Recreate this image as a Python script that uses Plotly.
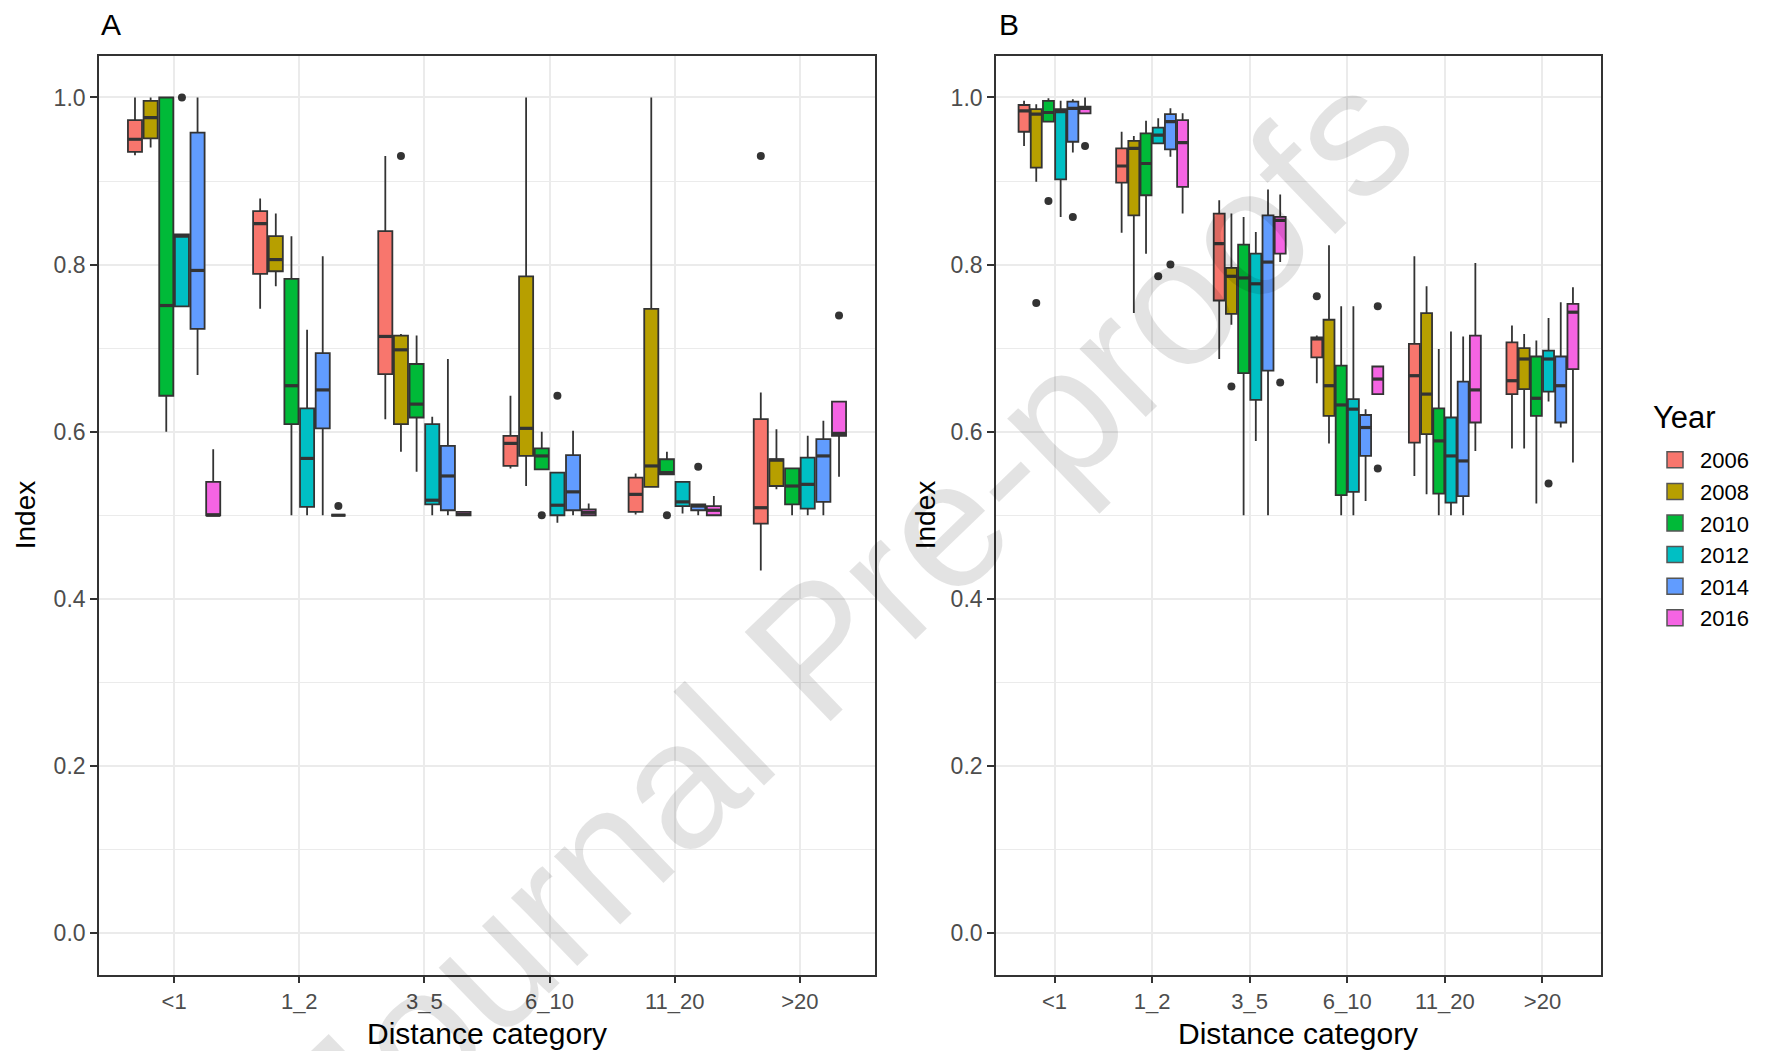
import plotly.graph_objects as go

# ---------------- data ----------------
categories = ["<1", "1_2", "3_5", "6_10", "11_20", ">20"]
years = ["2006", "2008", "2010", "2012", "2014", "2016"]
colors = ["#F8766D", "#B79F00", "#00BA38", "#00BFC4", "#619CFF", "#F564E3"]

# Panel A  (rows = years 2006..2016, columns = distance categories)
A_lower = [
    [0.931, 0.747, 0.615, 0.556, 0.501, 0.434],
    [0.940, 0.774, 0.576, 0.535, 0.534, 0.531],
    [0.600, 0.500, 0.552, 0.555, 0.549, 0.500],
    [0.750, 0.500, 0.500, 0.491, 0.502, 0.500],
    [0.668, 0.500, 0.500, 0.500, 0.500, 0.500],
    [0.500, 0.500, 0.500, 0.500, 0.500, 0.546],
]
A_q1 = [
    [0.935, 0.789, 0.669, 0.559, 0.504, 0.490],
    [0.951, 0.792, 0.609, 0.571, 0.534, 0.535],
    [0.643, 0.609, 0.617, 0.555, 0.549, 0.513],
    [0.750, 0.510, 0.513, 0.500, 0.511, 0.508],
    [0.723, 0.604, 0.506, 0.506, 0.506, 0.516],
    [0.500, 0.500, 0.500, 0.500, 0.500, 0.595],
]
A_median = [
    [0.950, 0.849, 0.714, 0.586, 0.525, 0.509],
    [0.976, 0.806, 0.698, 0.604, 0.559, 0.566],
    [0.751, 0.655, 0.633, 0.571, 0.551, 0.535],
    [0.834, 0.568, 0.518, 0.512, 0.516, 0.537],
    [0.793, 0.650, 0.547, 0.528, 0.511, 0.571],
    [0.500, 0.500, 0.501, 0.5035, 0.506, 0.598],
]
A_q3 = [
    [0.973, 0.864, 0.840, 0.595, 0.545, 0.615],
    [0.996, 0.834, 0.715, 0.786, 0.747, 0.567],
    [1.000, 0.783, 0.681, 0.580, 0.567, 0.556],
    [0.836, 0.628, 0.609, 0.551, 0.540, 0.569],
    [0.958, 0.694, 0.583, 0.572, 0.513, 0.591],
    [0.540, 0.500, 0.504, 0.507, 0.511, 0.636],
]
A_upper = [
    [1.000, 0.879, 0.930, 0.643, 0.550, 0.647],
    [1.000, 0.861, 0.717, 1.000, 1.000, 0.603],
    [1.000, 0.834, 0.715, 0.600, 0.576, 0.556],
    [0.836, 0.722, 0.618, 0.551, 0.540, 0.595],
    [1.000, 0.810, 0.687, 0.601, 0.513, 0.613],
    [0.579, 0.500, 0.504, 0.514, 0.523, 0.636],
]
# outliers: (category, year, value)
A_outliers = [
    ("<1", "2012", 1.000),
    ("1_2", "2016", 0.511),
    ("3_5", "2008", 0.930),
    ("6_10", "2010", 0.500),
    ("6_10", "2012", 0.643),
    ("11_20", "2010", 0.500),
    ("11_20", "2014", 0.558),
    (">20", "2006", 0.930),
    (">20", "2016", 0.739),
]

# Panel B
B_lower = [
    [0.942, 0.838, 0.687, 0.658, 0.547, 0.580],
    [0.899, 0.742, 0.728, 0.586, 0.525, 0.580],
    [0.971, 0.813, 0.500, 0.500, 0.500, 0.514],
    [0.857, 0.945, 0.589, 0.500, 0.500, 0.636],
    [0.934, 0.929, 0.500, 0.517, 0.500, 0.605],
    [0.981, 0.861, 0.803, 0.645, 0.577, 0.563],
]
B_q1 = [
    [0.959, 0.898, 0.757, 0.689, 0.587, 0.645],
    [0.916, 0.859, 0.741, 0.619, 0.597, 0.651],
    [0.971, 0.883, 0.670, 0.524, 0.526, 0.619],
    [0.902, 0.945, 0.638, 0.528, 0.515, 0.648],
    [0.947, 0.938, 0.673, 0.571, 0.523, 0.611],
    [0.981, 0.893, 0.813, 0.645, 0.611, 0.675],
]
B_median = [
    [0.984, 0.918, 0.825, 0.711, 0.667, 0.661],
    [0.980, 0.939, 0.786, 0.655, 0.645, 0.687],
    [0.982, 0.921, 0.784, 0.632, 0.589, 0.640],
    [0.983, 0.955, 0.777, 0.627, 0.571, 0.687],
    [0.987, 0.971, 0.803, 0.605, 0.565, 0.655],
    [0.987, 0.946, 0.853, 0.663, 0.650, 0.743],
]
B_q3 = [
    [0.991, 0.939, 0.861, 0.713, 0.705, 0.707],
    [0.986, 0.948, 0.796, 0.734, 0.742, 0.700],
    [0.996, 0.957, 0.824, 0.679, 0.628, 0.690],
    [0.986, 0.964, 0.813, 0.639, 0.617, 0.697],
    [0.995, 0.980, 0.859, 0.620, 0.660, 0.690],
    [0.989, 0.973, 0.857, 0.678, 0.715, 0.753],
]
B_upper = [
    [0.996, 0.959, 0.877, 0.715, 0.810, 0.727],
    [0.992, 0.954, 0.861, 0.823, 0.774, 0.717],
    [0.999, 0.972, 0.857, 0.750, 0.699, 0.709],
    [0.996, 0.975, 0.839, 0.750, 0.720, 0.736],
    [0.998, 0.987, 0.890, 0.627, 0.714, 0.755],
    [1.000, 0.981, 0.884, 0.678, 0.802, 0.773],
]
B_outliers = [
    ("<1", "2008", 0.754),
    ("<1", "2010", 0.876),
    ("<1", "2014", 0.857),
    ("<1", "2016", 0.942),
    ("1_2", "2012", 0.786),
    ("1_2", "2014", 0.800),
    ("3_5", "2008", 0.654),
    ("3_5", "2016", 0.659),
    ("6_10", "2006", 0.762),
    ("6_10", "2016", 0.750),
    ("6_10", "2016", 0.556),
    (">20", "2012", 0.538),
]

y_ticks = [0.0, 0.2, 0.4, 0.6, 0.8, 1.0]

# ---------------- layout geometry ----------------
OFF = 8                       # default page (body) margin
W, H = 1779 - OFF, 1051 - OFF  # figure size


def px(x):   # page pixel -> paper x
    return (x - OFF) / W


def py(y):   # page pixel -> paper y
    return 1 - (y - OFF) / H


FONT = "Liberation Sans, Arial, sans-serif"
DODGE = 0.75
n_years = len(years)
slot = DODGE / n_years
box_w = slot * 0.9
OUTLINE = "#333333"


def pos_of(ci, yi):
    return (ci + 1) + (yi - (n_years - 1) / 2) * slot


fig = go.Figure()

panels = [
    ("x", "y", A_lower, A_q1, A_median, A_q3, A_upper, A_outliers),
    ("x2", "y2", B_lower, B_q1, B_median, B_q3, B_upper, B_outliers),
]

for xa, ya, lo, q1, med, q3, hi, outl in panels:
    for yi, yr in enumerate(years):
        xs = [pos_of(ci, yi) for ci in range(len(categories))]
        fig.add_trace(go.Box(
            x=xs, q1=q1[yi], median=med[yi], q3=q3[yi],
            lowerfence=lo[yi], upperfence=hi[yi],
            width=box_w, whiskerwidth=0, boxpoints=False,
            fillcolor=colors[yi], line=dict(color=OUTLINE, width=1.8),
            name=yr, showlegend=False,
            xaxis=xa, yaxis=ya, hoverinfo="skip",
        ))
    # thicker median lines (ggplot fatten)
    mx, my = [], []
    for yi in range(n_years):
        for ci in range(len(categories)):
            p = pos_of(ci, yi)
            mx += [p - box_w / 2, p + box_w / 2, None]
            my += [med[yi][ci], med[yi][ci], None]
    fig.add_trace(go.Scatter(x=mx, y=my, mode="lines",
                             line=dict(color=OUTLINE, width=3.2),
                             showlegend=False, hoverinfo="skip",
                             xaxis=xa, yaxis=ya))
    ox = [pos_of(categories.index(c), years.index(yy)) for c, yy, v in outl]
    oy = [v for c, yy, v in outl]
    fig.add_trace(go.Scatter(x=ox, y=oy, mode="markers",
                             marker=dict(color=OUTLINE, size=8),
                             showlegend=False, hoverinfo="skip",
                             xaxis=xa, yaxis=ya))

# legend entries (filled keys)
for yi, yr in enumerate(years):
    fig.add_trace(go.Scatter(
        x=[None], y=[None], mode="markers", name=yr,
        marker=dict(symbol="square", size=16, color=colors[yi],
                    line=dict(color="#555555", width=1.5)),
        showlegend=True, hoverinfo="skip", xaxis="x2", yaxis="y2"))

# axes domains (page-pixel based)
xA = [px(99), px(875)]
xB = [px(996), px(1601)]
yD = [py(974.8), py(55.7)]

grid_c = "#EBEBEB"
common_x = dict(
    range=[0.4, len(categories) + 0.6],
    tickmode="array", tickvals=list(range(1, len(categories) + 1)),
    ticktext=categories,
    showgrid=True, gridcolor=grid_c, gridwidth=1.6,
    zeroline=False, showline=True, linecolor=OUTLINE, linewidth=1.6, mirror=True,
    ticks="outside", ticklen=6, tickwidth=1.8, tickcolor=OUTLINE,
    tickfont=dict(family=FONT, size=22, color="#4D4D4D"),
    automargin=False,
)
common_y = dict(
    range=[-0.05, 1.05],
    tickmode="array", tickvals=y_ticks, ticktext=[f"{v:.1f}" for v in y_ticks],
    showgrid=True, gridcolor=grid_c, gridwidth=1.6,
    minor=dict(tickvals=[0.1, 0.3, 0.5, 0.7, 0.9], showgrid=True,
               gridcolor=grid_c, gridwidth=1.2, ticklen=0),
    zeroline=False, showline=True, linecolor=OUTLINE, linewidth=1.6, mirror=True,
    ticks="outside", ticklen=7, tickwidth=1.8, tickcolor=OUTLINE,
    tickfont=dict(family=FONT, size=23, color="#4D4D4D"),
    automargin=False,
)

fig.update_layout(
    width=W, height=H,
    margin=dict(l=0, r=0, t=0, b=0),
    paper_bgcolor="white", plot_bgcolor="white",
    boxmode="overlay",
    font=dict(family=FONT, color="black"),
    xaxis=dict(domain=xA, anchor="y", **common_x),
    yaxis=dict(domain=yD, anchor="x", **common_y),
    xaxis2=dict(domain=xB, anchor="y2", **common_x),
    yaxis2=dict(domain=yD, anchor="x2", **common_y),
    legend=dict(
        font=dict(family=FONT, size=22, color="black"),
        x=px(1650), xanchor="left", y=py(439), yanchor="top",
        bgcolor="rgba(0,0,0,0)", tracegroupgap=0, itemwidth=40,
    ),
)

# legend title
fig.add_annotation(xref="paper", yref="paper", x=px(1651), y=py(418),
                   text="Year", showarrow=False, xanchor="left", yanchor="middle",
                   font=dict(family=FONT, size=31, color="black"))

for t, xx in [("A", 111), ("B", 1009)]:
    fig.add_annotation(xref="paper", yref="paper", x=px(xx), y=py(24),
                       text=t, showarrow=False,
                       xanchor="center", yanchor="middle",
                       font=dict(family=FONT, size=30, color="black"))

for cx in [(xA[0] + xA[1]) / 2, (xB[0] + xB[1]) / 2]:
    fig.add_annotation(xref="paper", yref="paper", x=cx, y=py(1033),
                       text="Distance category", showarrow=False,
                       xanchor="center", yanchor="middle",
                       font=dict(family=FONT, size=30, color="black"))
for ix in [25, 925]:
    fig.add_annotation(xref="paper", yref="paper", x=px(ix), y=(yD[0] + yD[1]) / 2,
                       text="Index", showarrow=False, textangle=-90,
                       xanchor="center", yanchor="middle",
                       font=dict(family=FONT, size=28, color="black"))

# watermark
fig.add_annotation(xref="paper", yref="paper", x=px(848), y=py(617),
                   text="Journal Pre-proofs", showarrow=False, textangle=-44,
                   xanchor="center", yanchor="middle",
                   font=dict(family=FONT, size=180, color="rgba(0,0,0,0.11)"))

fig.write_html("out.html")
